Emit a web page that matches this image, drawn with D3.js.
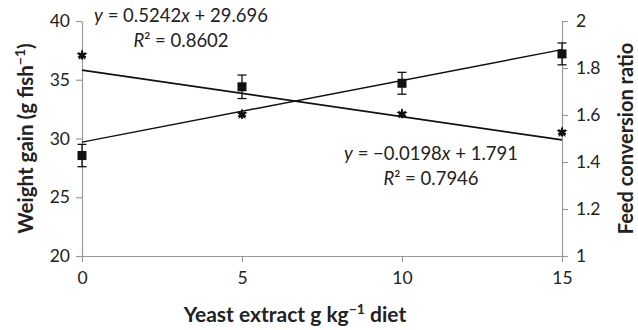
<!DOCTYPE html>
<html>
<head>
<meta charset="utf-8">
<script src="https://cdn.jsdelivr.net/npm/d3@7"></script>
<style>
  body { margin: 0; background: #fff; }
  svg text { font-family: Lato, "Open Sans", sans-serif; fill: #222; }
  svg text.title { font-family: Lato, sans-serif; font-weight: bold; }
</style>
</head>
<body>
<div id="chart"></div>
<script>
// yeast extract level (g/kg diet)
const levels = [0, 5, 10, 15];
// weight gain (g/fish), squares, left axis
const weightGain = [28.55, 34.4, 34.7, 37.2];
const weightErr = [0.95, 1.0, 0.93, 0.93];
// feed conversion ratio, stars, right axis
const fcr = [1.855, 1.603, 1.605, 1.527];
// trendline coefficients [slope, intercept]
const weightFit = [0.5242, 29.696];
const fcrFit = [-0.0198, 1.791];

const xTicks = [0, 5, 10, 15];
const leftTicks = [20, 25, 30, 35, 40];
const rightTicks = [1, 1.2, 1.4, 1.6, 1.8, 2];

const width = 638, height = 330;
const margin = { top: 21, right: 76, bottom: 74, left: 82 };

const svg = d3.select("#chart").append("svg")
    .attr("width", width)
    .attr("height", height);

const x = d3.scaleLinear().domain([0, 15]).range([margin.left, width - margin.right]);
const yL = d3.scaleLinear().domain([20, 40]).range([height - margin.bottom, margin.top]);
const yR = d3.scaleLinear().domain([1, 2]).range([height - margin.bottom, margin.top]);

const axisColor = "#999";

function styleAxis(g) {
    g.selectAll("path, line").attr("stroke", axisColor).attr("stroke-width", 1.2);
    g.selectAll("text").style("font-size", "17.5px").attr("fill", "#333");
}

// axes
svg.append("g")
    .attr("transform", `translate(0,${height - margin.bottom})`)
    .call(d3.axisBottom(x).tickValues(xTicks).tickSize(6).tickSizeOuter(0).tickPadding(10))
    .call(styleAxis);

svg.append("g")
    .attr("transform", `translate(${margin.left},0)`)
    .call(d3.axisLeft(yL).tickValues(leftTicks).tickSize(6).tickSizeOuter(0).tickPadding(6))
    .call(styleAxis);

svg.append("g")
    .attr("transform", `translate(${width - margin.right},0)`)
    .call(d3.axisRight(yR).tickValues(rightTicks).tickFormat(d3.format("~g")).tickSize(6).tickSizeOuter(0).tickPadding(8))
    .call(styleAxis);

// trendlines
const line = d3.line();
svg.append("path")
    .attr("d", line([[x(0), yL(weightFit[1])], [x(15), yL(weightFit[0] * 15 + weightFit[1])]]))
    .attr("stroke", "#111").attr("stroke-width", 1.4).attr("fill", "none");
svg.append("path")
    .attr("d", line([[x(0), yR(fcrFit[1])], [x(15), yR(fcrFit[0] * 15 + fcrFit[1])]]))
    .attr("stroke", "#111").attr("stroke-width", 1.8).attr("fill", "none");

// error bars
const eb = svg.append("g").attr("stroke", "#111").attr("stroke-width", 1.3);
levels.forEach((lv, i) => {
    const cx = x(lv);
    const top = yL(weightGain[i] + weightErr[i]);
    const bot = yL(weightGain[i] - weightErr[i]);
    eb.append("line").attr("x1", cx).attr("x2", cx).attr("y1", top).attr("y2", bot);
    eb.append("line").attr("x1", cx - 4.5).attr("x2", cx + 4.5).attr("y1", top).attr("y2", top);
    eb.append("line").attr("x1", cx - 4.5).attr("x2", cx + 4.5).attr("y1", bot).attr("y2", bot);
});

// square markers
svg.append("g").selectAll("rect")
    .data(levels)
    .join("rect")
    .attr("x", (d, i) => x(d) - 4.5)
    .attr("y", (d, i) => yL(weightGain[i]) - 4.5)
    .attr("width", 9).attr("height", 9)
    .attr("fill", "#111");

// star markers
const stars = svg.append("g");
levels.forEach((lv, i) => {
    const t = `translate(${x(lv)},${yR(fcr[i])})`;
    stars.append("path").attr("transform", t)
        .attr("d", d3.symbol(d3.symbolStar, 40)())
        .attr("fill", "#111");
    stars.append("path").attr("transform", t)
        .attr("d", d3.symbol(d3.symbolAsterisk, 55)())
        .attr("stroke", "#111").attr("stroke-width", 2).attr("fill", "none");
});

// equations
function equation(cx, cy, slope, intercept, r2) {
    const t1 = svg.append("text").attr("x", cx).attr("y", cy)
        .attr("text-anchor", "middle").style("font-size", "18.5px");
    t1.append("tspan").attr("font-style", "italic").text("y");
    const sign = slope < 0 ? "\u2212" : "";
    t1.append("tspan").text(` = ${sign}${Math.abs(slope)}`);
    t1.append("tspan").attr("font-style", "italic").text("x");
    t1.append("tspan").text(` + ${intercept}`);
    const t2 = svg.append("text").attr("x", cx).attr("y", cy + 25)
        .attr("text-anchor", "middle").style("font-size", "18.5px");
    t2.append("tspan").attr("font-style", "italic").text("R");
    t2.append("tspan").text(`\u00b2 = ${r2}`);
}
equation(181, 22, weightFit[0], weightFit[1], "0.8602");
equation(431, 160, fcrFit[0], fcrFit[1], "0.7946");

// axis titles
const xt = svg.append("text")
    .attr("class", "title")
    .attr("x", 295)
    .attr("y", 322)
    .attr("text-anchor", "middle")
    .style("font-size", "21px");
xt.append("tspan").text("Yeast extract g kg");
xt.append("tspan").attr("dy", -8).style("font-size", "14px").text("\u22121");
xt.append("tspan").attr("dy", 8).text(" diet");

const lt = svg.append("text")
    .attr("class", "title")
    .attr("transform", `translate(33,${(margin.top + height - margin.bottom) / 2}) rotate(-90)`)
    .attr("text-anchor", "middle")
    .style("font-size", "20.5px");
lt.append("tspan").text("Weight gain (g fish");
lt.append("tspan").attr("dy", -8).style("font-size", "14px").text("\u22121");
lt.append("tspan").attr("dy", 8).text(")");

svg.append("text")
    .attr("class", "title")
    .attr("transform", `translate(633,${(margin.top + height - margin.bottom) / 2}) rotate(-90)`)
    .attr("text-anchor", "middle")
    .style("font-size", "20px")
    .text("Feed conversion ratio");
</script>
</body>
</html>
